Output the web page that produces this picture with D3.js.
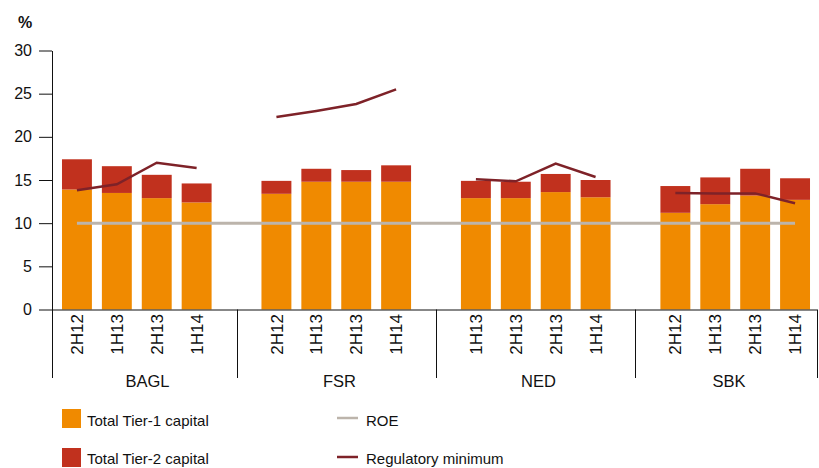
<!DOCTYPE html>
<html>
<head>
<meta charset="utf-8">
<script src="https://cdn.jsdelivr.net/npm/d3@7"></script>
<style>
  body { margin: 0; background: #fff; }
  text { font-family: "Liberation Sans", Arial, sans-serif; fill: #111; }
</style>
</head>
<body>
<script>

// data
var banks = ["BAGL", "FSR", "NED", "SBK"];
var periods = [
  ["2H12", "1H13", "2H13", "1H14"],
  ["2H12", "1H13", "2H13", "1H14"],
  ["1H13", "2H13", "2H13", "1H14"],
  ["2H12", "1H13", "2H13", "1H14"]
];
var tier1 = [13.9, 13.5, 12.9, 12.4,  13.4, 14.8, 14.8, 14.8,  12.9, 12.9, 13.6, 13.0,  11.2, 12.2, 13.2, 12.7];
var tier2 = [3.5, 3.1, 2.7, 2.2,  1.5, 1.5, 1.35, 1.9,  2.0, 1.9, 2.1, 2.0,  3.1, 3.1, 3.1, 2.5];
var regMin = [13.8, 14.5, 17.0, 16.4,  22.3, 23.0, 23.8, 25.5,  15.1, 14.85, 16.9, 15.35,  13.5, 13.45, 13.45, 12.3];
var roe = [10, 10, 10, 10,  10, 10, 10, 10,  10, 10, 10, 10,  10, 10, 10, 10];
var yTicks = [0, 5, 10, 15, 20, 25, 30];

var width = 819, height = 468;
var col1 = "#f08a00", col2 = "#c1311e", colRoe = "#bcb4ab", colReg = "#7e2228";

var svg = d3.select("body").append("svg")
    .attr("width", width)
    .attr("height", height);

// one slot per bar, plus an empty slot between banks
var slots = [];
var rows = [];
banks.forEach(function(b, g) {
  if (g > 0) slots.push("gap" + g);
  periods[g].forEach(function(p, i) {
    var k = b + "-" + i;
    var n = g * 4 + i;
    slots.push(k);
    rows.push({key: k, bank: b, period: p, t1: tier1[n], t2: tier2[n], reg: regMin[n], roe: roe[n]});
  });
});

var x = d3.scaleBand().domain(slots).range([57, 815]).paddingInner(0.25).paddingOuter(0.125);
var y = d3.scaleLinear().domain([0, 30]).range([309.5, 50.5]);

var axisLeft = 52, axisRight = 817, sepBottom = 378;

// bars
var bars = svg.append("g");
bars.selectAll(".t1").data(rows).enter().append("rect")
    .attr("x", function(d) { return x(d.key); })
    .attr("width", x.bandwidth())
    .attr("y", function(d) { return y(d.t1); })
    .attr("height", function(d) { return y(0) - y(d.t1); })
    .attr("fill", col1);
bars.selectAll(".t2").data(rows).enter().append("rect")
    .attr("x", function(d) { return x(d.key); })
    .attr("width", x.bandwidth())
    .attr("y", function(d) { return y(d.t1 + d.t2); })
    .attr("height", function(d) { return y(d.t1) - y(d.t1 + d.t2); })
    .attr("fill", col2);

// ROE runs straight across all banks
var cx = function(d) { return x(d.key) + x.bandwidth() / 2; };
svg.append("path")
    .datum(rows)
    .attr("fill", "none")
    .attr("stroke", colRoe)
    .attr("stroke-width", 3)
    .attr("d", d3.line().x(cx).y(function(d) { return y(d.roe); }));

// regulatory minimum, one segment per bank
banks.forEach(function(b) {
  svg.append("path")
      .datum(rows.filter(function(d) { return d.bank == b; }))
      .attr("fill", "none")
      .attr("stroke", colReg)
      .attr("stroke-width", 2.5)
      .attr("d", d3.line().x(cx).y(function(d) { return y(d.reg); }));
});

// y axis
var yAxis = svg.append("g")
    .attr("transform", "translate(" + axisLeft + ",0)")
    .call(d3.axisLeft(y).tickValues(yTicks).tickSize(13).tickSizeOuter(0).tickPadding(7));
yAxis.selectAll("text").style("font-size", "16px").attr("fill", "#111");
yAxis.selectAll("line,path").attr("stroke", "#111");

svg.append("text")
    .attr("x", 18).attr("y", 28)
    .style("font-size", "16px").style("font-weight", "bold")
    .text("%");

// x axis line and bank separators
svg.append("line")
    .attr("x1", axisLeft).attr("x2", axisRight)
    .attr("y1", y(0) + 0.5).attr("y2", y(0) + 0.5)
    .attr("stroke", "#111");

var seps = [axisLeft];
banks.forEach(function(b, g) {
  if (g > 0) seps.push(Math.round(x("gap" + g) + x.bandwidth() / 2));
});
seps.push(axisRight);
svg.selectAll(".sep").data(seps).enter().append("line")
    .attr("x1", function(d) { return d + 0.5; })
    .attr("x2", function(d) { return d + 0.5; })
    .attr("y1", y(0)).attr("y2", sepBottom)
    .attr("stroke", "#111");

// period labels, rotated
svg.selectAll(".per").data(rows).enter().append("text")
    .attr("transform", function(d) { return "translate(" + cx(d) + ",314) rotate(-90)"; })
    .attr("text-anchor", "end")
    .attr("dy", "0.36em")
    .style("font-size", "17px")
    .text(function(d) { return d.period; });

// bank labels
svg.selectAll(".bank").data(banks).enter().append("text")
    .attr("x", function(d, i) { return (seps[i] + seps[i + 1]) / 2 + 3; })
    .attr("y", 387)
    .attr("text-anchor", "middle")
    .style("font-size", "16.5px")
    .text(function(d) { return d; });

// legend
var legend = svg.append("g");
legend.append("rect").attr("x", 62).attr("y", 409).attr("width", 19).attr("height", 19).attr("fill", col1);
legend.append("text").attr("x", 87).attr("y", 425.5).style("font-size", "15px").text("Total Tier-1 capital");
legend.append("rect").attr("x", 62).attr("y", 448).attr("width", 19).attr("height", 19).attr("fill", col2);
legend.append("text").attr("x", 87).attr("y", 464).style("font-size", "15px").text("Total Tier-2 capital");

legend.append("line").attr("x1", 337).attr("x2", 358).attr("y1", 418).attr("y2", 418)
    .attr("stroke", colRoe).attr("stroke-width", 2.5);
legend.append("text").attr("x", 366).attr("y", 425.5).style("font-size", "15px").text("ROE");
legend.append("line").attr("x1", 337).attr("x2", 358).attr("y1", 457).attr("y2", 457)
    .attr("stroke", colReg).attr("stroke-width", 2.5);
legend.append("text").attr("x", 366).attr("y", 464).style("font-size", "15px").text("Regulatory minimum");

</script>
</body>
</html>
